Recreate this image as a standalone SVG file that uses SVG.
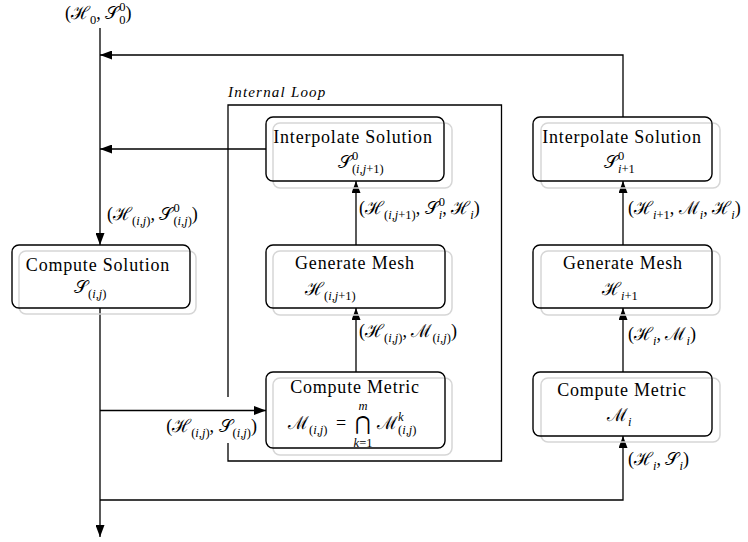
<svg xmlns="http://www.w3.org/2000/svg" width="748" height="542" viewBox="0 0 748 542">
<defs>
<marker id="ah" markerUnits="userSpaceOnUse" markerWidth="13" markerHeight="9" refX="12" refY="4.5" orient="auto">
<path d="M0,0 L12,4.5 L0,9 z" fill="#000"/>
</marker>
<style>
.box{fill:none;stroke:#000;stroke-width:1.4}
.sh{fill:none;stroke:#d6d6d6;stroke-width:1.5}
.c{fill:none;stroke:#000;stroke-width:1.3}
.ca{fill:none;stroke:#000;stroke-width:1.3;marker-end:url(#ah)}
text{font-family:"Liberation Serif","DejaVu Serif",serif;font-size:18px;fill:#000}
.n{letter-spacing:0.8px}
.m{text-anchor:middle}
.e{text-anchor:end}
.s{font-size:12.5px}
.i{font-style:italic}
.it{font-style:italic;font-size:15px;letter-spacing:1.2px}
</style>
</defs>
<rect width="748" height="542" fill="#fff"/>

<g id="connectors">
<path class="ca" d="M100,28 V245"/>
<path class="ca" d="M100,308 V537"/>
<path class="ca" d="M100,410.5 H266"/>
<path class="ca" d="M100,500 H623 V436"/>
<path class="ca" d="M623,117 V55 H100"/>
<path class="ca" d="M266,149 H100"/>
<path class="ca" d="M356,372 V308"/>
<path class="ca" d="M356,245 V181"/>
<path class="ca" d="M623,372 V308"/>
<path class="ca" d="M623,245 V181"/>
<text x="65" y="19">(ℋ<tspan class="s" dy="5">0</tspan><tspan dy="-5">, 𝒮</tspan><tspan class="s" dy="-8">0</tspan><tspan class="s" dx="-6.3" dy="13">0</tspan><tspan dy="-5">)</tspan></text>
<text x="107" y="220">(ℋ<tspan class="s" dy="5">(<tspan class="i">i</tspan>,<tspan class="i">j</tspan>)</tspan><tspan dy="-5">, 𝒮</tspan><tspan class="s" dy="-8">0</tspan><tspan class="s" dx="-6.3" dy="13">(<tspan class="i">i</tspan>,<tspan class="i">j</tspan>)</tspan><tspan dy="-5">)</tspan></text>
<text x="359" y="214">(ℋ<tspan class="s" dy="5">(<tspan class="i">i</tspan>,<tspan class="i">j</tspan>+1)</tspan><tspan dy="-5">, 𝒮</tspan><tspan class="s" dy="-8">0</tspan><tspan class="s i" dx="-6.3" dy="13">i</tspan><tspan dy="-5">, ℋ</tspan><tspan class="s i" dy="5">i</tspan><tspan dy="-5">)</tspan></text>
<text x="628" y="214">(ℋ<tspan class="s" dy="5"><tspan class="i">i</tspan>+1</tspan><tspan dy="-5">, ℳ</tspan><tspan class="s i" dy="5">i</tspan><tspan dy="-5">, ℋ</tspan><tspan class="s i" dy="5">i</tspan><tspan dy="-5">)</tspan></text>
<text x="359" y="337">(ℋ<tspan class="s" dy="5">(<tspan class="i">i</tspan>,<tspan class="i">j</tspan>)</tspan><tspan dy="-5">, ℳ</tspan><tspan class="s" dy="5">(<tspan class="i">i</tspan>,<tspan class="i">j</tspan>)</tspan><tspan dy="-5">)</tspan></text>
<text x="628" y="340">(ℋ<tspan class="s i" dy="5">i</tspan><tspan dy="-5">, ℳ</tspan><tspan class="s i" dy="5">i</tspan><tspan dy="-5">)</tspan></text>
<text x="628" y="465">(ℋ<tspan class="s i" dy="5">i</tspan><tspan dy="-5">, 𝒮</tspan><tspan class="s i" dy="5">i</tspan><tspan dy="-5">)</tspan></text>
<text class="e" x="257" y="432">(ℋ<tspan class="s" dy="5">(<tspan class="i">i</tspan>,<tspan class="i">j</tspan>)</tspan><tspan dy="-5">, 𝒮</tspan><tspan class="s" dy="5">(<tspan class="i">i</tspan>,<tspan class="i">j</tspan>)</tspan><tspan dy="-5">)</tspan></text>
</g>

<g id="internal-loop">
<path class="c" d="M228,397 V105 H501.5 V461 H228 V443"/>
<text class="it" x="228" y="97">Internal Loop</text>
</g>

<g id="interp-inner">
<rect class="sh" x="273" y="123" width="179" height="65" rx="7"/>
<rect class="box" x="266" y="117" width="178" height="64" rx="7"/>
<text class="m n" x="353" y="143">Interpolate Solution</text>
<text x="338" y="168">𝒮<tspan class="s" dy="-8">0</tspan><tspan class="s" dx="-6.3" dy="13">(<tspan class="i">i</tspan>,<tspan class="i">j</tspan>+1)</tspan></text>
</g>

<g id="interp-outer">
<rect class="sh" x="541" y="123" width="179" height="65" rx="7"/>
<rect class="box" x="533" y="117" width="179" height="64" rx="7"/>
<text class="m n" x="622" y="143">Interpolate Solution</text>
<text x="604" y="168">𝒮<tspan class="s" dy="-8">0</tspan><tspan class="s" dx="-6.3" dy="13"><tspan class="i">i</tspan>+1</tspan></text>
</g>

<g id="compute-solution">
<rect class="sh" x="19" y="251" width="177" height="63" rx="7"/>
<rect class="box" x="12" y="245" width="178" height="63" rx="7"/>
<text class="m n" x="98" y="271">Compute Solution</text>
<text x="74" y="293">𝒮<tspan class="s" dy="5">(<tspan class="i">i</tspan>,<tspan class="i">j</tspan>)</tspan></text>
</g>

<g id="mesh-inner">
<rect class="sh" x="273" y="251" width="179" height="64" rx="7"/>
<rect class="box" x="266" y="245" width="179" height="63" rx="7"/>
<text class="m n" x="355" y="269">Generate Mesh</text>
<text x="305" y="295">ℋ<tspan class="s" dy="5">(<tspan class="i">i</tspan>,<tspan class="i">j</tspan>+1)</tspan></text>
</g>

<g id="mesh-outer">
<rect class="sh" x="541" y="251" width="179" height="64" rx="7"/>
<rect class="box" x="533" y="245" width="179" height="63" rx="7"/>
<text class="m n" x="623" y="269">Generate Mesh</text>
<text x="602" y="295">ℋ<tspan class="s" dy="5"><tspan class="i">i</tspan>+1</tspan></text>
</g>

<g id="metric-inner">
<rect class="sh" x="273" y="378" width="179" height="77" rx="7"/>
<rect class="box" x="266" y="372" width="179" height="76" rx="7"/>
<text class="m n" x="355" y="393">Compute Metric</text>
<text x="288" y="429">ℳ<tspan class="s" dy="5">(<tspan class="i">i</tspan>,<tspan class="i">j</tspan>)</tspan></text>
<text class="m" x="341" y="429">=</text>
<text class="m" x="363" y="430" style="font-size:19px">⋂</text>
<text class="m s i" x="363" y="410">m</text>
<text class="m s" x="363" y="446.5"><tspan class="i">k</tspan>=1</text>
<text x="377" y="429">ℳ<tspan class="s i" dy="-8">k</tspan><tspan class="s" dx="-5.5" dy="13">(<tspan class="i">i</tspan>,<tspan class="i">j</tspan>)</tspan></text>
</g>

<g id="metric-outer">
<rect class="sh" x="541" y="378" width="179" height="64" rx="7"/>
<rect class="box" x="533" y="372" width="179" height="64" rx="7"/>
<text class="m n" x="622" y="396">Compute Metric</text>
<text x="607" y="421">ℳ<tspan class="s i" dy="5">i</tspan></text>
</g>
</svg>
